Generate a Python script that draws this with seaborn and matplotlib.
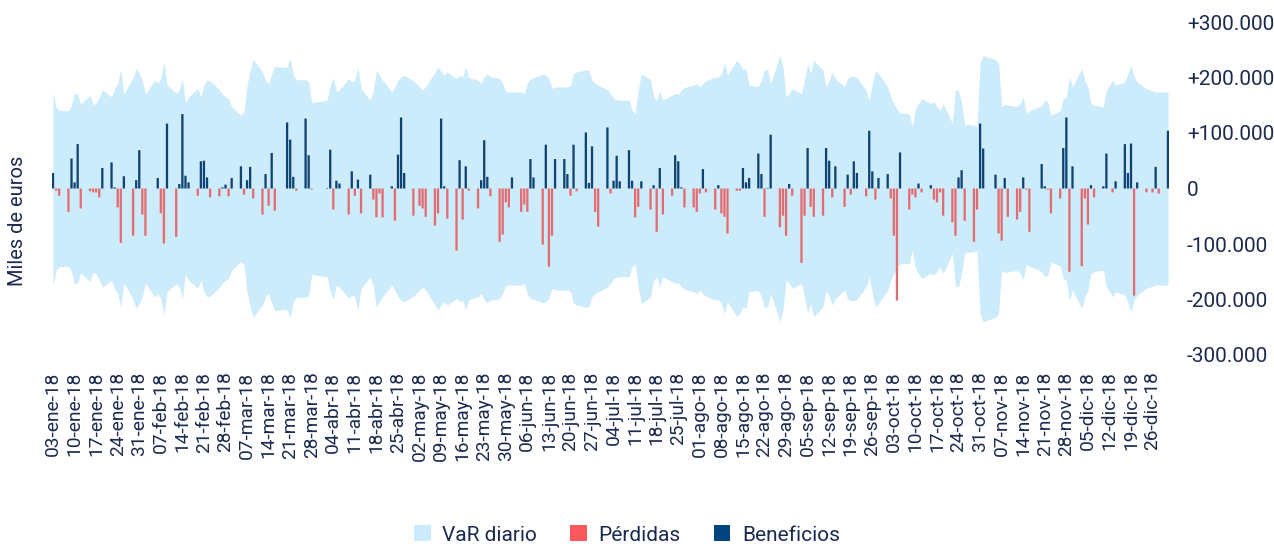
import numpy as np
import pandas as pd
import matplotlib
matplotlib.use("Agg")
import matplotlib.pyplot as plt
from matplotlib.patches import Patch
import seaborn as sns

# ---------------- data (miles de euros, in thousands of axis units) ----------------
months_es = ["ene", "feb", "mar", "abr", "may", "jun", "jul", "ago", "sep", "oct", "nov", "dic"]
holidays = ["2018-03-30", "2018-05-01", "2018-12-25"]

pnl_ene = [28, -4, -13, -42, 54, 11, 80, -36, -5, -7, -7, -16, 37, 47, 2, -34, -98, 22, -85, 15, 69]
var_ene = [174, 147, 141, 140, 150, 172, 170, 152, 168, 151, 154, 165, 178, 165, 181, 189, 214, 170, 200, 216, 207]

pnl_feb = [-47, -85, 0, 19, -45, -99, 117, -87, 8, 134, 23, 11, -13, 49, 50, 20, -16, -14, 2, 7]
var_feb = [195, 170, 195, 190, 198, 228, 186, 172, 177, 198, 154, 165, 180, 165, 186, 195, 194, 178, 170, 166]

pnl_mar = [-14, 19, 40, -11, 15, 39, -18, -47, 26, -31, 64, -40, 0, 119, 88, 21, -4, 126, 60, -2, 0]
var_mar = [162, 147, 132, 138, 186, 213, 232, 210, 195, 189, 207, 220, 218, 219, 234, 204, 196, 196, 192, 154, 156]

pnl_abr = [1, 70, -38, 14, 9, -47, 31, -13, 16, -45, 25, -20, -52, -9, -52, 4, -58, 61, 128, 28, -49]
var_abr = [159, 185, 200, 174, 178, 198, 192, 195, 219, 180, 159, 177, 213, 204, 195, 174, 183, 195, 201, 204, 194]

pnl_may = [-31, -36, -51, -67, -45, 126, 4, -54, -112, 51, -56, 40, -4, -36, 15, 87, 21, -14, -96, -83, -25, -34]
var_may = [183, 178, 183, 210, 219, 210, 204, 210, 198, 204, 201, 219, 200, 195, 189, 201, 206, 202, 198, 189, 174, 174]

pnl_jun = [20, -42, -29, -42, 53, 20, -101, 79, -141, -85, 53, 53, 26, -13, 79, -5, 101, 10, 76, -42, -69]
var_jun = [174, 174, 171, 190, 198, 200, 206, 204, 198, 180, 183, 183, 183, 186, 207, 210, 214, 213, 195, 189, 186]

pnl_jul = [110, -9, 14, 59, 13, 69, 14, -52, -33, 13, -38, 6, -78, 37, -47, -13, 60, 49, 2, -34, -34, -42]
var_jul = [178, 171, 162, 160, 159, 159, 141, 135, 177, 207, 196, 165, 159, 177, 159, 168, 171, 170, 177, 182, 186, 189]

pnl_ago = [-9, 35, -7, -38, 6, -45, -51, -81, -4, -4, 37, 11, 19, 63, 26, -51, 1, 97, -70, -49, -85, 8, -13]
var_ago = [183, 190, 194, 201, 200, 207, 226, 204, 231, 225, 213, 216, 186, 184, 195, 214, 213, 189, 240, 219, 165, 171, 180]

pnl_sep = [-134, -49, 73, -33, -51, -49, 73, 50, -16, 40, -33, 25, -11, 49, 28, -14, 104, 31, -20, 19]
var_sep = [171, 195, 225, 207, 231, 213, 183, 195, 210, 198, 183, 198, 202, 202, 200, 177, 159, 189, 213, 207]

pnl_oct = [26, -18, -85, -202, 65, -38, -11, -16, 9, -7, 6, -20, -25, -7, -49, -61, -85, 20, 33, -58, -96, -38, 117]
var_oct = [183, 165, 153, 144, 136, 135, 111, 144, 153, 162, 153, 156, 148, 141, 153, 117, 177, 176, 154, 116, 114, 112, 228]

pnl_nov = [72, 0, 25, -81, -94, 19, -51, -56, -42, 20, -2, -78, 0, 44, 4, -2, -45, -18, 73, 128, -150, 40]
var_nov = [240, 238, 232, 225, 147, 152, 150, 148, 153, 165, 136, 140, 147, 150, 159, 156, 132, 140, 162, 165, 201, 183]

pnl_dic = [-140, -18, -65, 6, -16, 4, 63, 0, -7, 13, 80, 28, 81, -193, 11, -7, -7, 39, -9, 104]
var_dic = [216, 195, 183, 153, 150, 147, 177, 186, 195, 186, 192, 207, 222, 201, 192, 180, 176, 174, 174, 174]

y_ticks = [-300, -200, -100, 0, 100, 200, 300]
y_labels = ["-300.000", "-200.000", "-100.000", "0", "+100.000", "+200.000", "+300.000"]
legend_labels = ["VaR diario", "Pérdidas", "Beneficios"]

# ---------------- styling ----------------
c_var = "#CCEBFB"
c_loss = "#F8585E"
c_gain = "#004481"
c_txt = "#1B2A4E"

sns.set_theme(style="white")
plt.rcParams["font.family"] = ["Roboto", "DejaVu Sans"]

pnl = pnl_ene + pnl_feb + pnl_mar + pnl_abr + pnl_may + pnl_jun + pnl_jul + pnl_ago + pnl_sep + pnl_oct + pnl_nov + pnl_dic
var = var_ene + var_feb + var_mar + var_abr + var_may + var_jun + var_jul + var_ago + var_sep + var_oct + var_nov + var_dic

start = pd.Timestamp("2018-01-03")
dates = pd.bdate_range("2018-01-03", "2018-12-31")
dates = dates[~dates.isin(pd.to_datetime(holidays))]
day = np.asarray((dates - start).days)

df = pd.DataFrame({"day": day, "pnl": pnl, "var": var})
df["tipo"] = np.where(df["pnl"] < 0, "Pérdidas", "Beneficios")
bars = df[df["pnl"] != 0]

W, H = 1274, 547
fig = plt.figure(figsize=(W / 100, H / 100), dpi=100)
ax = fig.add_axes([52.1 / W, 1 - 355 / H, 1116.8 / W, (355 - 22) / H])

ax.fill_between(df["day"], -df["var"], df["var"], color=c_var, lw=0, zorder=1)
sns.barplot(data=bars, x="day", y="pnl", hue="tipo",
            palette={"Pérdidas": c_loss, "Beneficios": c_gain},
            native_scale=True, width=0.74, dodge=False, errorbar=None,
            linewidth=0, legend=False, ax=ax, zorder=2, snap=False)

ax.set_xlim(-0.3, 362.3)
ax.set_ylim(-300, 300)

tick_days = list(range(0, 358, 7))
tick_dates = [start + pd.Timedelta(days=d) for d in tick_days]
tick_labels = [f"{d.day:02d}-{months_es[d.month - 1]}-{d.strftime('%y')}" for d in tick_dates]
ax.set_xticks(tick_days)
ax.set_xticklabels(tick_labels, rotation=90)
ax.tick_params(axis="x", length=0, pad=12, labelsize=13.8, colors=c_txt)

ax.yaxis.tick_right()
ax.set_yticks(y_ticks)
ax.set_yticklabels(y_labels)
ax.tick_params(axis="y", length=0, pad=13, labelsize=15, colors=c_txt)

ax.set_xlabel("")
ax.set_ylabel("")
sns.despine(ax=ax, left=True, bottom=True, right=True, top=True)
ax.grid(False)

fig.text(18 / W, 1 - 221 / H, "Miles de euros", rotation=90, ha="center", va="center",
         fontsize=14.5, color=c_txt)

handles = [Patch(facecolor=c, edgecolor="none") for c in (c_var, c_loss, c_gain)]
fig.legend(handles, legend_labels, loc="center", bbox_to_anchor=(0.492, 1 - 535 / H),
           ncol=3, frameon=False, handlelength=0.8, handleheight=0.8,
           handletextpad=0.55, columnspacing=1.6, fontsize=15, labelcolor=c_txt)

fig.savefig("out.png", dpi=100)
